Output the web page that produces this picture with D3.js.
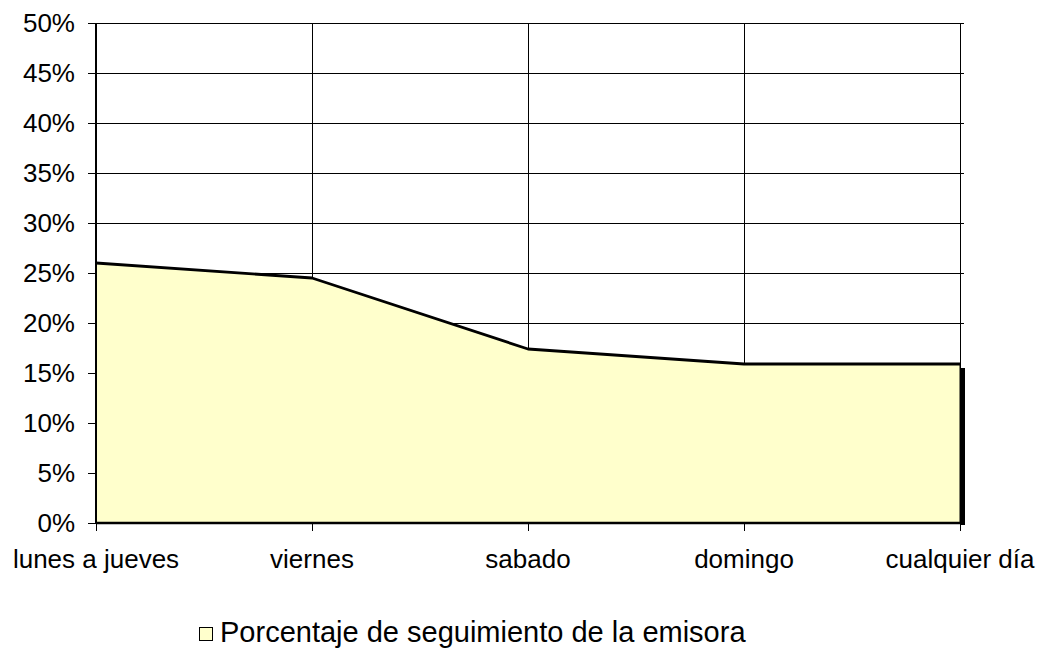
<!DOCTYPE html>
<html>
<head>
<meta charset="utf-8">
<script src="https://cdn.jsdelivr.net/npm/d3@7"></script>
<style>
  body { margin: 0; background: #fff; }
  text { font-family: "Liberation Sans", Arial, sans-serif; fill: #000; }
</style>
</head>
<body>
<div id="chart-area"></div>
<script>

// datos
var categories = ["lunes a jueves", "viernes", "sabado", "domingo", "cualquier día"];
var values = [26.0, 24.5, 17.4, 15.9, 15.9];
var yTicks = [0, 5, 10, 15, 20, 25, 30, 35, 40, 45, 50];
var seriesName = "Porcentaje de seguimiento de la emisora";

var margin = {top: 23, right: 80, bottom: 128, left: 96},
    width = 1040 - margin.left - margin.right,
    height = 651 - margin.top - margin.bottom;

var svg = d3.select("#chart-area")
    .append("svg")
    .attr("width", 1040)
    .attr("height", 651);

var g = svg.append("g")
    .attr("transform", "translate(" + margin.left + "," + margin.top + ")");

var x = d3.scalePoint()
    .domain(categories)
    .range([0, width]);

var y = d3.scaleLinear()
    .domain([0, 50])
    .range([height, 0]);

// grid horizontal
g.selectAll(".hgrid")
    .data(yTicks)
  .enter().append("line")
    .attr("class", "hgrid")
    .attr("x1", -8)
    .attr("x2", width + 4)
    .attr("y1", function(d) { return Math.round(y(d)) + 0.5; })
    .attr("y2", function(d) { return Math.round(y(d)) + 0.5; })
    .attr("stroke", "#000")
    .attr("stroke-width", 1);

// grid vertical
g.selectAll(".vgrid")
    .data(categories)
  .enter().append("line")
    .attr("class", "vgrid")
    .attr("x1", function(d) { return Math.round(x(d)) + 0.5; })
    .attr("x2", function(d) { return Math.round(x(d)) + 0.5; })
    .attr("y1", 0)
    .attr("y2", height + 8)
    .attr("stroke", "#000")
    .attr("stroke-width", 1);

// sombra del area (lado derecho)
var last = categories.length - 1;
g.append("rect")
    .attr("x", x(categories[last]))
    .attr("y", y(values[last]) + 4)
    .attr("width", 5)
    .attr("height", y(0) - y(values[last]) - 2)
    .attr("fill", "#000");

var area = d3.area()
    .x(function(d, i) { return x(categories[i]); })
    .y0(y(0))
    .y1(function(d) { return y(d); });

var line = d3.line()
    .x(function(d, i) { return x(categories[i]); })
    .y(function(d) { return y(d); });

g.append("path")
    .datum(values)
    .attr("d", area)
    .attr("fill", "#FFFFCC")
    .attr("stroke", "#000")
    .attr("stroke-width", 1);

g.append("path")
    .datum(values)
    .attr("d", line)
    .attr("fill", "none")
    .attr("stroke", "#000")
    .attr("stroke-width", 2.8)
    .attr("stroke-linejoin", "round");

// ejes
g.append("line")
    .attr("x1", 0).attr("x2", 0)
    .attr("y1", 0).attr("y2", height)
    .attr("stroke", "#000")
    .attr("stroke-width", 2);

g.append("line")
    .attr("x1", 0).attr("x2", width)
    .attr("y1", height).attr("y2", height)
    .attr("stroke", "#000")
    .attr("stroke-width", 2.5);

// etiquetas eje y
g.selectAll(".ylabel")
    .data(yTicks)
  .enter().append("text")
    .attr("class", "ylabel")
    .attr("x", -21)
    .attr("y", function(d) { return y(d); })
    .attr("dy", "0.35em")
    .attr("text-anchor", "end")
    .style("font-size", "26px")
    .text(function(d) { return d + "%"; });

// etiquetas eje x
g.selectAll(".xlabel")
    .data(categories)
  .enter().append("text")
    .attr("class", "xlabel")
    .attr("x", function(d) { return x(d); })
    .attr("y", height + 45)
    .attr("text-anchor", "middle")
    .style("font-size", "26px")
    .text(function(d) { return d; });

// leyenda
var legend = svg.append("g")
    .attr("transform", "translate(199,627)");

legend.append("rect")
    .attr("x", 0.5)
    .attr("y", 0.5)
    .attr("width", 13)
    .attr("height", 13)
    .attr("fill", "#FFFFCC")
    .attr("stroke", "#000")
    .attr("stroke-width", 1);

legend.append("text")
    .attr("x", 21)
    .attr("y", 15)
    .style("font-size", "29px")
    .text(seriesName);

</script>
</body>
</html>
